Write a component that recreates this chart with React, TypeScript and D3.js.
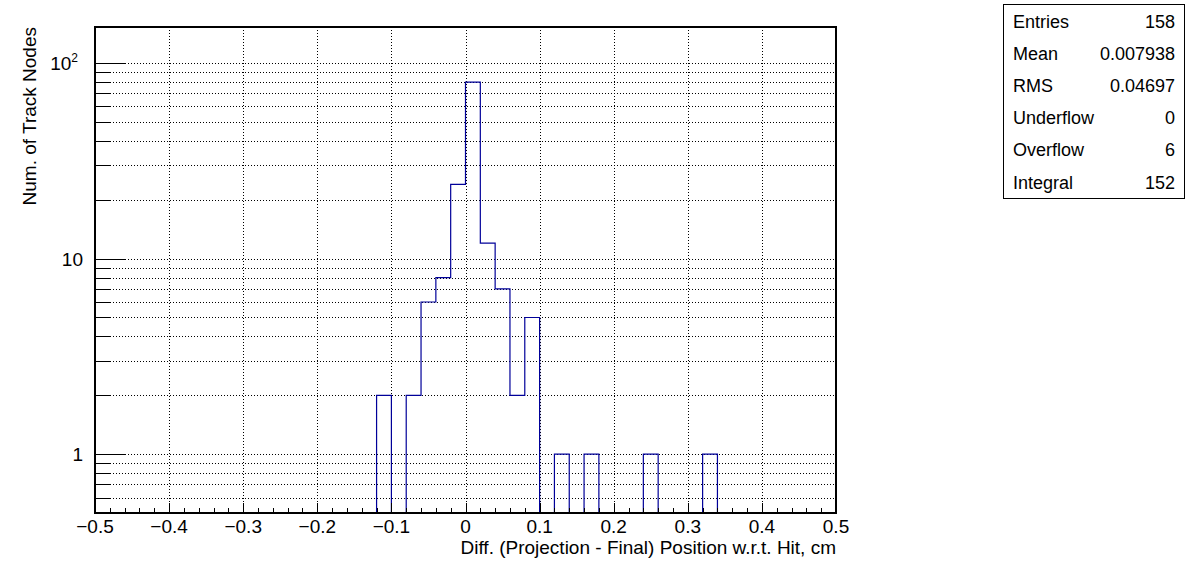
import React from "react";
import * as d3 from "d3";

// ---- data ----
const xDomain = [-0.5, 0.5];
const binWidth = 0.02;
const filledBinLow = [-0.12, -0.08, -0.06, -0.04, -0.02, 0, 0.02, 0.04, 0.06, 0.08, 0.12, 0.16, 0.24, 0.32];
const filledBinCount = [2, 2, 6, 8, 24, 80, 12, 7, 2, 5, 1, 1, 1, 1];
const yDomain = [0.5, 153];
const xTickLabels = ["\u22120.5", "\u22120.4", "\u22120.3", "\u22120.2", "\u22120.1", "0", "0.1", "0.2", "0.3", "0.4", "0.5"];
const xTickValues = [-0.5, -0.4, -0.3, -0.2, -0.1, 0, 0.1, 0.2, 0.3, 0.4, 0.5];
const yMajorTicks = [1, 10, 100];
const yMinorTicks = [0.6, 0.7, 0.8, 0.9, 2, 3, 4, 5, 6, 7, 8, 9, 20, 30, 40, 50, 60, 70, 80, 90];
const statLabels = ["Entries", "Mean", "RMS", "Underflow", "Overflow", "Integral"];
const statValues = ["158", "0.007938", "0.04697", "0", "6", "152"];
const xTitle = "Diff. (Projection - Final) Position w.r.t. Hit, cm";
const yTitle = "Num. of Track Nodes";

const W = 1196, H = 572;
const FL = 95, FR = 836, FT = 27, FB = 513;
const FONT = "'Liberation Sans', Arial, Helvetica, sans-serif";
const HIST = "#000099";

export default function App() {
  const x = d3.scaleLinear().domain(xDomain).range([FL, FR]);
  const y = d3.scaleLog().domain(yDomain).range([FB, FT]);

  const nBins = Math.round((xDomain[1] - xDomain[0]) / binWidth);
  const counts = new Array(nBins).fill(0);
  filledBinLow.forEach((lo, i) => {
    const idx = Math.round((lo - xDomain[0]) / binWidth);
    counts[idx] = filledBinCount[i];
  });
  const yOf = (c: number) => (c <= 0 ? FB : Math.max(FT, y(c)));

  const pts: [number, number][] = [];
  pts.push([x(xDomain[0]), FB]);
  counts.forEach((c, i) => {
    const lo = xDomain[0] + i * binWidth;
    const hi = lo + binWidth;
    pts.push([x(lo), yOf(c)]);
    pts.push([x(hi), yOf(c)]);
  });
  pts.push([x(xDomain[1]), FB]);
  const path = d3.line()(pts) || "";

  const minorX: number[] = [];
  for (let i = 0; i <= nBins; i++) minorX.push(xDomain[0] + i * binWidth);

  const px = (v: number) => Math.round(v) + 0.5;

  return (
    <svg width={W} height={H} style={{ position: "absolute", left: 0, top: 0, background: "#fff" }}
      fontFamily={FONT}>
      <rect x={0} y={0} width={W} height={H} fill="#fff" />
      {/* grid */}
      <g stroke="#000" strokeWidth={1} strokeDasharray="1 2" fill="none">
        {xTickValues.slice(1, -1).map((v, i) => (
          <line key={"gx" + i} x1={px(x(v))} x2={px(x(v))} y1={FT} y2={FB} />
        ))}
        {[...yMajorTicks, ...yMinorTicks].map((v, i) => (
          <line key={"gy" + i} x1={FL} x2={FR} y1={px(y(v))} y2={px(y(v))} />
        ))}
      </g>
      {/* histogram */}
      <path d={path} fill="none" stroke={HIST} strokeWidth={1.2} />
      {/* ticks */}
      <g stroke="#000" strokeWidth={1}>
        {minorX.map((v, i) => {
          const major = Math.abs(Math.round(v * 10) - v * 10) < 1e-6;
          return <line key={"tx" + i} x1={px(x(v))} x2={px(x(v))} y1={FB} y2={FB - (major ? 10 : 5)} />;
        })}
        {yMajorTicks.map((v, i) => (
          <line key={"tyM" + i} x1={FL} x2={FL + 31} y1={px(y(v))} y2={px(y(v))} />
        ))}
        {yMinorTicks.map((v, i) => (
          <line key={"tym" + i} x1={FL} x2={FL + 16} y1={px(y(v))} y2={px(y(v))} />
        ))}
      </g>
      {/* frame */}
      <rect x={FL} y={FT} width={FR - FL} height={FB - FT} fill="none" stroke="#000" strokeWidth={2} />
      {/* x tick labels */}
      <g fontSize={19} textAnchor="middle" fill="#000">
        {xTickValues.map((v, i) => (
          <text key={"xl" + i} x={x(v)} y={533}>{xTickLabels[i]}</text>
        ))}
      </g>
      {/* y tick labels */}
      <g fontSize={19} textAnchor="end" fill="#000">
        <text x={83} y={y(1) + 7}>1</text>
        <text x={83} y={y(10) + 7}>10</text>
        <text x={78} y={y(100) + 7}>
          <tspan>10</tspan>
          <tspan fontSize={12} dy={-8}>2</tspan>
        </text>
      </g>
      {/* titles */}
      <text x={FR} y={554} fontSize={19} textAnchor="end" fill="#000">{xTitle}</text>
      <text transform={`translate(36,${FT}) rotate(-90)`} fontSize={19} textAnchor="end" fill="#000">{yTitle}</text>
      {/* stats box */}
      <rect x={1003.5} y={4.5} width={181} height={194} fill="#fff" stroke="#000" strokeWidth={1} />
      <g fontSize={18} fill="#000">
        {statLabels.map((l, i) => (
          <g key={"st" + i}>
            <text x={1013} y={27.5 + i * 32.2}>{l}</text>
            <text x={1175} y={27.5 + i * 32.2} textAnchor="end">{statValues[i]}</text>
          </g>
        ))}
      </g>
    </svg>
  );
}
